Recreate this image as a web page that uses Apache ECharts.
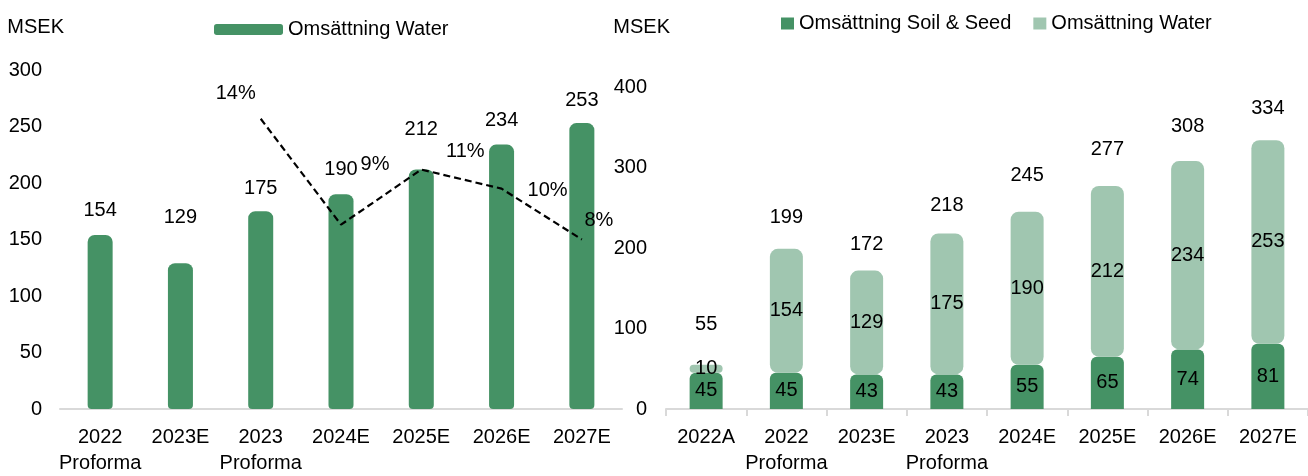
<!DOCTYPE html>
<html>
<head>
<meta charset="utf-8">
<title>Omsättning</title>
<script src="https://cdn.jsdelivr.net/npm/echarts@6/dist/echarts.min.js"></script>
<style>
html,body{margin:0;padding:0;background:#fff;}
#main{width:1308px;height:476px;}
</style>
</head>
<body>
<div id="main"></div>
<script>
// vänster diagram
var leftCategories = ['2022\nProforma', '2023E', '2023\nProforma', '2024E', '2025E', '2026E', '2027E'];
var leftWater = [154, 129, 175, 190, 212, 234, 253];
var leftGrowth = [null, null, 13.7, 8.7, 11.3, 10.4, 8.0];

// höger diagram
var rightCategories = ['2022A', '2022\nProforma', '2023E', '2023\nProforma', '2024E', '2025E', '2026E', '2027E'];
var rightSoil = [45, 45, 43, 43, 55, 65, 74, 81];
var rightWater = [10, 154, 129, 175, 190, 212, 234, 253];
var rightTotal = [55, 199, 172, 218, 245, 277, 308, 334];

(function(){
    var dom = document.getElementById('main');
    var myChart = echarts.init(dom);
    var font = '"Liberation Sans Narrow", "Arial Narrow", "Liberation Sans", Arial, sans-serif';
    var fs = 20;
    var dark = '#459265';
    var light = '#a0c6b0';
    var axisGrey = '#d9d9d9';

    // etiketternas placering (som i originalet, flyttade för hand)
    var leftLabelGap = [24, 46, 23, 25, 40, 24, 23];
    var growthOffset = [null, null, [-25, -25], [34, -60], [44, -18], [46, 2], [17, -19]];
    var totalLabelGap = [40, 31, 26, 28, 36, 36, 34, 31];

    var waterItems = leftWater.map(function (v, i) {
        return {value: v, label: {distance: leftLabelGap[i] - fs / 2}};
    });
    var growthItems = leftGrowth.map(function (v, i) {
        if (v === null) return null;
        return {value: v, label: {offset: growthOffset[i]}};
    });
    var totalItems = rightTotal.map(function (v, i) {
        return {value: v, label: {distance: totalLabelGap[i] - fs / 2}};
    });

    var catAxis = function (grid, data, ticks) {
        return {
            gridIndex: grid,
            type: 'category',
            data: data,
            axisLine: {lineStyle: {color: axisGrey, width: 2}},
            axisTick: {show: ticks, length: 7, lineStyle: {color: axisGrey, width: 2}},
            axisLabel: {color: '#000', fontSize: fs, lineHeight: 26, margin: 15, interval: 0}
        };
    };
    var valAxis = function (grid, max, interval, margin, gap) {
        return {
            gridIndex: grid,
            type: 'value',
            min: 0,
            max: max,
            interval: interval,
            splitLine: {show: false},
            axisLine: {show: false},
            axisTick: {show: false},
            axisLabel: {color: '#000', fontSize: fs, margin: margin},
            name: 'MSEK',
            nameLocation: 'end',
            nameGap: gap,
            nameTextStyle: {color: '#000', fontSize: fs, align: 'right', verticalAlign: 'middle', padding: [0, -4, 0, 0]}
        };
    };

    var option = {
        animation: false,
        textStyle: {fontFamily: font, color: '#000'},
        legend: [{
            left: 209,
            top: 14.5,
            icon: 'roundRect',
            itemWidth: 69,
            itemHeight: 11,
            selectedMode: false,
            textStyle: {fontSize: fs, color: '#000'},
            data: [{name: 'Omsättning Water', itemStyle: {color: dark}}]
        }, {
            left: 776,
            top: 8.5,
            icon: 'rect',
            itemWidth: 13,
            itemHeight: 12,
            itemGap: 22,
            selectedMode: false,
            textStyle: {fontSize: fs, color: '#000'},
            data: [
                {name: 'Omsättning Soil & Seed', itemStyle: {color: dark}},
                {name: 'Omsättning Water', itemStyle: {color: light}}
            ]
        }],
        grid: [
            {left: 60, top: 70, width: 562, height: 343},
            {left: 666, top: 87, width: 648, height: 326.5}
        ],
        xAxis: [catAxis(0, leftCategories, false), catAxis(1, rightCategories, true)],
        yAxis: [
            valAxis(0, 300, 50, 18, 42.5),
            {gridIndex: 0, type: 'value', min: 0, max: 16, show: false},
            valAxis(1, 400, 100, 19, 59.5)
        ],
        series: [{
            name: 'Omsättning Water',
            type: 'bar',
            xAxisIndex: 0,
            yAxisIndex: 0,
            barWidth: 25,
            itemStyle: {color: dark, borderRadius: [7, 7, 4, 4]},
            label: {show: true, position: 'top', color: '#000', fontSize: fs},
            data: waterItems
        }, {
            name: 'Tillväxt',
            type: 'line',
            xAxisIndex: 0,
            yAxisIndex: 1,
            silent: true,
            symbol: 'circle',
            symbolSize: 1,
            itemStyle: {color: 'rgba(0,0,0,0)'},
            lineStyle: {color: '#000', width: 2.2, type: [7, 4]},
            label: {
                show: true,
                position: 'inside',
                align: 'center',
                verticalAlign: 'middle',
                color: '#000',
                fontSize: fs,
                formatter: function (p) { return Math.round(p.value) + '%'; }
            },
            data: growthItems
        }, {
            name: 'Omsättning Soil & Seed',
            type: 'bar',
            xAxisIndex: 1,
            yAxisIndex: 2,
            stack: 'oms',
            barWidth: 33,
            itemStyle: {color: dark, borderRadius: [6, 6, 0, 0]},
            label: {show: true, position: 'inside', color: '#000', fontSize: fs},
            data: rightSoil
        }, {
            name: 'Omsättning Water',
            type: 'bar',
            xAxisIndex: 1,
            yAxisIndex: 2,
            stack: 'oms',
            barWidth: 33,
            itemStyle: {color: light, borderRadius: 8},
            label: {show: true, position: 'inside', color: '#000', fontSize: fs},
            data: rightWater
        }, {
            name: 'Totalt',
            type: 'line',
            xAxisIndex: 1,
            yAxisIndex: 2,
            silent: true,
            symbol: 'circle',
            symbolSize: 1,
            itemStyle: {color: 'rgba(0,0,0,0)'},
            lineStyle: {width: 0, opacity: 0},
            label: {show: true, position: 'top', color: '#000', fontSize: fs},
            data: totalItems
        }]
    };
    myChart.setOption(option);
})();
</script>
</body>
</html>
